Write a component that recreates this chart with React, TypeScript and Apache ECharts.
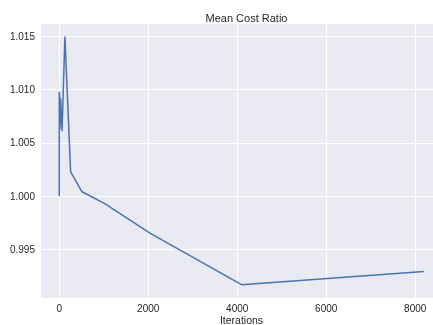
import React, { useEffect, useRef } from "react";
import * as echarts from "echarts";

const iterations = [1, 2, 4, 8, 16, 32, 64, 128, 256, 512, 1024, 2048, 4096, 8192];
const meanCostRatio = [1.0, 1.0098, 1.0062, 1.0096, 1.0063, 1.0092, 1.0061, 1.015, 1.00228, 1.00041, 0.9993, 0.99651, 0.99168, 0.99292];
const xTicks = [0, 2000, 4000, 6000, 8000];
const yTicks = [0.995, 1.0, 1.005, 1.01, 1.015];

const X_MIN = -409.55;
const X_MAX = 8601.55;
const Y_MIN = 0.99043;
const Y_MAX = 1.01617;

export default function App() {
  const ref = useRef<HTMLDivElement>(null);
  useEffect(() => {
    const chart = echarts.init(ref.current!, null, { renderer: "svg" });
    const font = "Liberation Sans, Arial, sans-serif";
    const points = iterations.map((x, i) => [x, meanCostRatio[i]]);
    chart.setOption({
      animation: false,
      title: {
        text: "Mean Cost Ratio",
        left: 241.5,
        textAlign: "center",
        top: 7,
        textStyle: { fontFamily: font, fontSize: 11, fontWeight: "normal", color: "#262626" },
      },
      grid: {
        left: 41,
        top: 24,
        width: 401,
        height: 274,
        show: true,
        backgroundColor: "#EAEAF2",
        borderWidth: 0,
        containLabel: false,
        outerBoundsMode: "none",
      },
      xAxis: {
        type: "value",
        min: X_MIN,
        max: X_MAX,
        name: "Iterations",
        nameLocation: "middle",
        nameGap: 16,
        nameMoveOverlap: false,
        nameTextStyle: { fontFamily: font, fontSize: 10.5, color: "#262626", verticalAlign: "top" },
        axisLine: { show: false },
        axisTick: { show: false, customValues: xTicks },
        axisLabel: {
          customValues: xTicks,
          fontFamily: font,
          fontSize: 10,
          color: "#262626",
          margin: 5,
          formatter: (v: number) => String(v),
        },
        splitLine: { show: false },
      },
      yAxis: {
        type: "value",
        min: Y_MIN,
        max: Y_MAX,
        axisLine: { show: false },
        axisTick: { show: false, customValues: yTicks },
        axisLabel: {
          customValues: yTicks,
          fontFamily: font,
          fontSize: 10,
          color: "#262626",
          margin: 6,
          formatter: (v: number) => v.toFixed(3),
        },
        splitLine: { show: true, showMinLine: true, showMaxLine: true, lineStyle: { color: "#ffffff", width: 1 } },
      },
      series: [
        {
          type: "custom",
          z: 1,
          silent: true,
          clip: false,
          data: xTicks.map((v) => [v]),
          encode: { x: 0 },
          renderItem: (_params: any, api: any) => {
            const v = api.value(0);
            const p1 = api.coord([v, Y_MIN]);
            const p2 = api.coord([v, Y_MAX]);
            const x = Math.round(p1[0]) + 0.5;
            return {
              type: "line",
              shape: { x1: x, y1: p1[1], x2: x, y2: p2[1] },
              style: { stroke: "#ffffff", lineWidth: 1 },
            };
          },
        },
        {
          type: "line",
          data: points,
          z: 3,
          showSymbol: false,
          symbol: "none",
          lineStyle: { color: "#4C72B0", width: 1.5 },
          clip: true,
        },
      ],
    });
    return () => chart.dispose();
  }, []);
  return <div ref={ref} style={{ position: "fixed", left: 0, top: 0, width: 433, height: 325 }} />;
}
